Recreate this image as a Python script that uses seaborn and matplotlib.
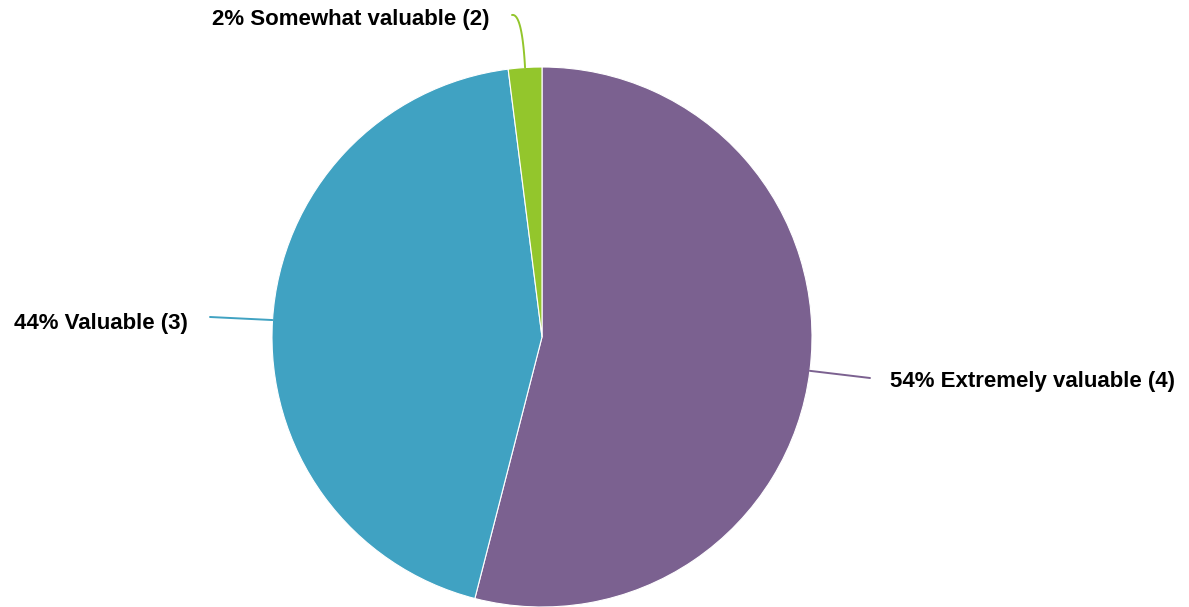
import numpy as np
import matplotlib
matplotlib.use('Agg')
import matplotlib.pyplot as plt
import seaborn as sns

# data
labels = ['Extremely valuable (4)', 'Valuable (3)', 'Somewhat valuable (2)']
shares = [54, 44, 2]
colors = ['#7b6190', '#40a2c2', '#93c62c']

sns.set_theme(style='white')
plt.rcParams['font.family'] = ['Liberation Sans', 'DejaVu Sans']

W, H = 1189, 607
fig = plt.figure(figsize=(W / 100, H / 100), dpi=100)
ax = fig.add_axes([0, 0, 1, 1])

# pie placed in pixel-like data units
cx, cy, r = 542, H - 337, 270
wedges, _ = ax.pie(shares, colors=colors, startangle=90, counterclock=False,
                   center=(cx, cy), radius=r,
                   wedgeprops=dict(edgecolor='white', linewidth=0.8))

ax.set_xlim(0, W)
ax.set_ylim(0, H)
ax.set_aspect('equal')
ax.axis('off')

# label positions (end of leader line, text anchor, alignment)
label_setup = [
    dict(end=(870, H - 378), text=(890, H - 382), ha='left'),
    dict(end=(210, H - 317), text=(188, H - 323), ha='right'),
    dict(end=(512, H - 15), text=(490, H - 20), ha='right'),
]

for w, lab, pct, col, cfg in zip(wedges, labels, shares, colors, label_setup):
    mid = np.deg2rad((w.theta1 + w.theta2) / 2)
    sx, sy = cx + r * np.cos(mid), cy + r * np.sin(mid)
    ex, ey = cfg['end']
    if pct < 5:
        # small slice: line goes up then bends over to the left
        t = np.linspace(0, 1, 30)
        bx = (1 - t) ** 2 * sx + 2 * (1 - t) * t * (sx - 3) + t ** 2 * ex
        by = (1 - t) ** 2 * sy + 2 * (1 - t) * t * (ey + 2) + t ** 2 * ey
        ax.plot(bx, by, color=col, lw=1.4)
    else:
        ax.plot([sx, ex], [sy, ey], color=col, lw=1.4)
    ax.text(cfg['text'][0], cfg['text'][1], f'{pct}% {lab}', ha=cfg['ha'], va='center',
            fontsize=16, fontweight='bold', color='black')

fig.savefig('out.png', dpi=100)
